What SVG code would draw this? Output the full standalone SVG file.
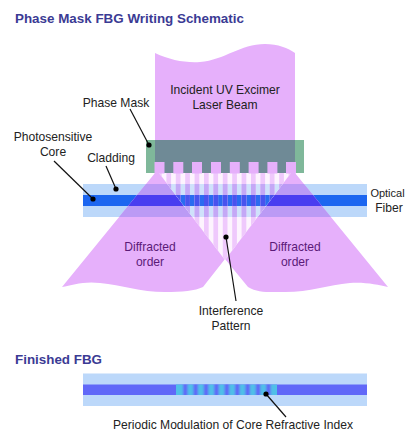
<svg xmlns="http://www.w3.org/2000/svg" width="405" height="432" viewBox="0 0 405 432">
<style>
text{font-family:"Liberation Sans",Arial,sans-serif;font-size:12.100px;fill:#222;text-anchor:middle}
.h{font-size:13.400px;font-weight:bold;fill:#3b3b94;text-anchor:start}
.p{fill:#5b1a78}
.l{stroke:#111;stroke-width:1.200;fill:none}
.d{fill:#000}
</style>
<defs>
<filter id="soft" x="-5%" y="-5%" width="110%" height="110%"><feGaussianBlur stdDeviation="0.700"/></filter>
<filter id="softer" x="-5%" y="-5%" width="110%" height="110%"><feGaussianBlur stdDeviation="1"/></filter>
<clipPath id="tri"><polygon points="159,173 291,173 225,260"/></clipPath>
<clipPath id="cladClip"><rect x="83" y="184" width="284" height="33"/></clipPath>
<clipPath id="coreClip"><rect x="83" y="195" width="284" height="11"/></clipPath>
<clipPath id="gratingClip"><rect x="176" y="384.500" width="101" height="10.500"/></clipPath>
<g id="orders">
<path d="M155 173L62 287C72 285 84 281 100 283C122 285 140 292 165 292C182 292 195 291 203 287L225 259L160 173Z"/>
<path d="M295 173L388 287C378 285 366 282 350 283C328 285 310 292 285 292C268 292 258 293 248 287L225 259L290 173Z"/>
</g>
<g id="stripes">
<rect x="157" y="173" width="4.700" height="88"/><rect x="166.400" y="173" width="4.700" height="88"/>
<rect x="175.800" y="173" width="4.700" height="88"/><rect x="185.200" y="173" width="4.700" height="88"/>
<rect x="194.600" y="173" width="4.700" height="88"/><rect x="204" y="173" width="4.700" height="88"/>
<rect x="213.400" y="173" width="4.700" height="88"/><rect x="222.800" y="173" width="4.700" height="88"/>
<rect x="232.200" y="173" width="4.700" height="88"/><rect x="241.600" y="173" width="4.700" height="88"/>
<rect x="251" y="173" width="4.700" height="88"/><rect x="260.400" y="173" width="4.700" height="88"/>
<rect x="269.800" y="173" width="4.700" height="88"/><rect x="279.200" y="173" width="4.700" height="88"/>
<rect x="288.600" y="173" width="4.700" height="88"/>
</g>
</defs>
<rect width="405" height="432" fill="#fff"/>
<text class="h" x="15" y="23">Phase Mask FBG Writing Schematic</text>

<g id="fiber" filter="url(#soft)">
<rect x="83" y="184" width="284" height="33" fill="#bcd8fa"/>
<rect x="83" y="195" width="284" height="11" fill="#1f66f0"/>
</g>

<g id="beam-overlap" filter="url(#soft)">
<use href="#orders" fill="#e6b0fb"/>
<use href="#orders" fill="#bb9af5" clip-path="url(#cladClip)"/>
<use href="#orders" fill="#4a3df0" clip-path="url(#coreClip)"/>
<g clip-path="url(#tri)">
<rect x="155" y="173" width="140" height="90" fill="#fdf4fe"/>
<rect x="83" y="184" width="284" height="33" fill="#cfe2fb"/>
<rect x="83" y="195" width="284" height="11" fill="#2a6cf0"/>
<use href="#stripes" fill="#efc9fc"/>
<g clip-path="url(#cladClip)"><use href="#stripes" fill="#c4a8f6"/></g>
<g clip-path="url(#coreClip)"><use href="#stripes" fill="#4a52ee"/></g>
</g>
</g>

<g id="incident-beam">
<path d="M155 53C170 60 185 63 200 62C225 60 240 44 265 44C278 44 288 48 295 53V140H155Z" fill="#e6b0fb"/>
<text x="225" y="94">Incident UV Excimer</text>
<text x="225" y="109">Laser Beam</text>
</g>

<g id="phase-mask">
<rect x="146" y="140" width="158" height="33" fill="#7fb89a"/>
<rect x="155" y="140" width="140" height="33" fill="#6f8a96"/>
<g fill="#e6b0fb">
<rect x="154.500" y="162" width="10" height="11.500"/><rect x="173.300" y="162" width="10" height="11.500"/>
<rect x="192" y="162" width="10" height="11.500"/><rect x="211" y="162" width="10" height="11.500"/>
<rect x="229.800" y="162" width="10" height="11.500"/><rect x="248.600" y="162" width="10" height="11.500"/>
<rect x="267.400" y="162" width="10" height="11.500"/><rect x="286" y="162" width="10" height="11.500"/>
</g>
</g>

<g id="diffracted-left"><text class="p" x="150" y="251">Diffracted</text><text class="p" x="150" y="266">order</text></g>
<g id="diffracted-right"><text class="p" x="295" y="251">Diffracted</text><text class="p" x="295" y="266">order</text></g>

<g id="labels">
<text x="116" y="107">Phase Mask</text>
<text x="53" y="141">Photosensitive</text>
<text x="53" y="156">Core</text>
<text x="111" y="162">Cladding</text>
<text x="387.500" y="197" style="font-size:11px">Optical</text>
<text x="389" y="212">Fiber</text>
<text x="231" y="315">Interference</text>
<text x="231" y="330">Pattern</text>
</g>

<text class="h" x="15" y="364">Finished FBG</text>

<g id="finished-fbg">
<rect x="83" y="373.500" width="284" height="32.500" fill="#bcd8fa"/>
<rect x="83" y="384.500" width="284" height="10.500" fill="#6068f8"/>
<g clip-path="url(#gratingClip)"><g filter="url(#softer)">
<rect x="170" y="380" width="113" height="20" fill="#50bfe8"/>
<g fill="#6068f8">
<rect x="183" y="380" width="4.500" height="20"/><rect x="193.400" y="380" width="4.500" height="20"/>
<rect x="203.800" y="380" width="4.500" height="20"/><rect x="214.200" y="380" width="4.500" height="20"/>
<rect x="224.600" y="380" width="4.500" height="20"/><rect x="235" y="380" width="4.500" height="20"/>
<rect x="245.400" y="380" width="4.500" height="20"/><rect x="255.800" y="380" width="4.500" height="20"/>
<rect x="266.200" y="380" width="4.500" height="20"/>
</g>
</g></g>
<text x="233" y="429">Periodic Modulation of Core Refractive Index</text>
</g>

<g id="connectors">
<path class="l" d="M130 109L149 145"/><circle class="d" cx="149" cy="145" r="2.600"/>
<path class="l" d="M54 161L93 199"/><circle class="d" cx="93" cy="199" r="2.600"/>
<path class="l" d="M106 166L116 189"/><circle class="d" cx="116" cy="189" r="2.600"/>
<path class="l" d="M226 237L236 301"/><circle class="d" cx="226" cy="237" r="2.600"/>
<path class="l" d="M266 394L286 417"/><circle class="d" cx="266" cy="394" r="2.600"/>
</g>
</svg>
